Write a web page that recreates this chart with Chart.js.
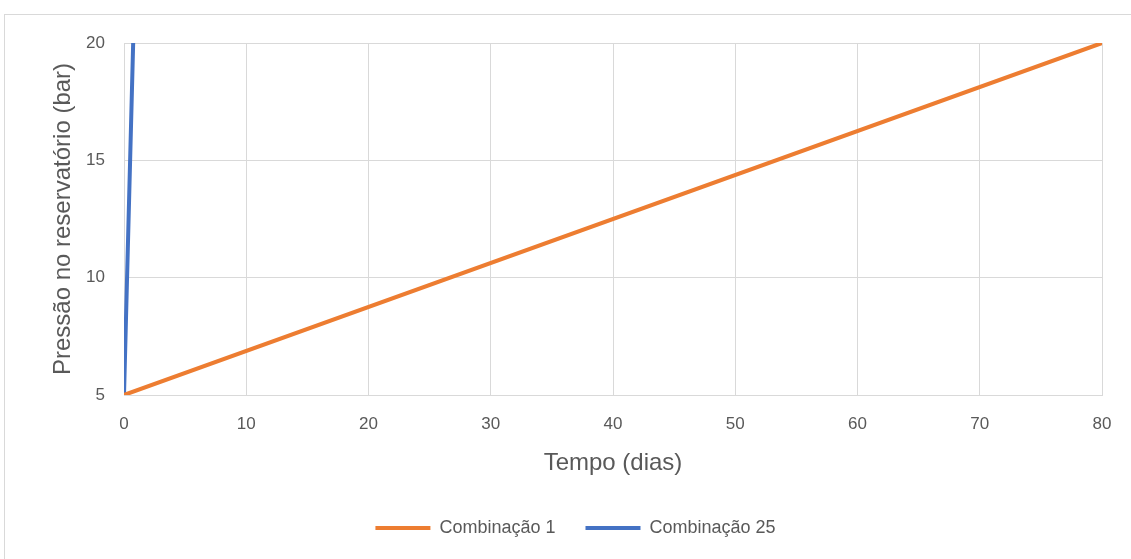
<!DOCTYPE html>
<html>
<head>
<meta charset="utf-8">
<script src="https://cdn.jsdelivr.net/npm/chart.js@4/dist/chart.umd.min.js"></script>
<style>
  html, body { margin: 0; padding: 0; background: #fff; }
  #wrap { position: relative; width: 1131px; height: 559px; overflow: hidden; }
  #frame { position: absolute; left: 4px; top: 14px; width: 1200px; height: 600px; border: 1px solid #d9d9d9; box-sizing: border-box; }
  canvas { position: absolute; left: 0; top: 0; }
</style>
</head>
<body>
<div id="wrap">
  <div id="frame"></div>
  <canvas id="c" width="1131" height="559"></canvas>
</div>
<script>
// Reservoir pressure over time for two combinations
const seriesNames = ['Combinação 1', 'Combinação 25'];
const tempoC1 = [0, 80];
const pressaoC1 = [5, 20];
const tempoC25 = [0, 0.75];
const pressaoC25 = [5, 20];
const xTicks = [0, 10, 20, 30, 40, 50, 60, 70, 80];
const yTicks = [5, 10, 15, 20];

const toPoints = (xs, ys) => xs.map((x, i) => ({ x: x, y: ys[i] }));

const fontFamily = '"Liberation Sans", Arial, sans-serif';
const textColor = '#595959';
const gridColor = '#d9d9d9';

new Chart(document.getElementById('c'), {
  type: 'scatter',
  data: {
    datasets: [
      {
        label: seriesNames[0],
        data: toPoints(tempoC1, pressaoC1),
        showLine: true,
        borderColor: '#ed7d31',
        backgroundColor: '#ed7d31',
        borderWidth: 4,
        pointRadius: 0,
        pointStyle: 'line',
        borderCapStyle: 'round'
      },
      {
        label: seriesNames[1],
        data: toPoints(tempoC25, pressaoC25),
        showLine: true,
        borderColor: '#4472c4',
        backgroundColor: '#4472c4',
        borderWidth: 4,
        pointRadius: 0,
        pointStyle: 'line',
        borderCapStyle: 'round'
      }
    ]
  },
  options: {
    responsive: false,
    animation: false,
    layout: { padding: { left: 49, right: 29, top: 43, bottom: 12 } },
    plugins: {
      tooltip: { enabled: false },
      legend: {
        position: 'bottom',
        labels: {
          usePointStyle: true,
          pointStyleWidth: 55,
          boxWidth: 55,
          boxHeight: 4,
          padding: 30,
          color: textColor,
          font: { family: fontFamily, size: 18 }
        }
      }
    },
    scales: {
      x: {
        type: 'linear',
        min: 0,
        max: 80,
        afterBuildTicks: (axis) => { axis.ticks = xTicks.map(v => ({ value: v })); },
        afterFit: (axis) => { axis.height = 94; },
        grid: { color: gridColor, lineWidth: 1, drawTicks: false },
        border: { color: gridColor },
        ticks: { color: textColor, font: { family: fontFamily, size: 17 }, padding: 19 },
        title: { display: true, text: 'Tempo (dias)', color: textColor, font: { family: fontFamily, size: 24 }, padding: { top: 8, bottom: 11 } }
      },
      y: {
        type: 'linear',
        min: 5,
        max: 20,
        afterBuildTicks: (axis) => { axis.ticks = yTicks.map(v => ({ value: v })); },
        afterFit: (axis) => { axis.width = 75; },
        grid: { color: gridColor, lineWidth: 1, drawTicks: false },
        border: { display: false },
        ticks: { color: textColor, font: { family: fontFamily, size: 17 }, padding: 19 },
        title: { display: true, text: 'Pressão no reservatório (bar)', color: textColor, font: { family: fontFamily, size: 24 }, padding: 0 }
      }
    }
  }
});
</script>
</body>
</html>
